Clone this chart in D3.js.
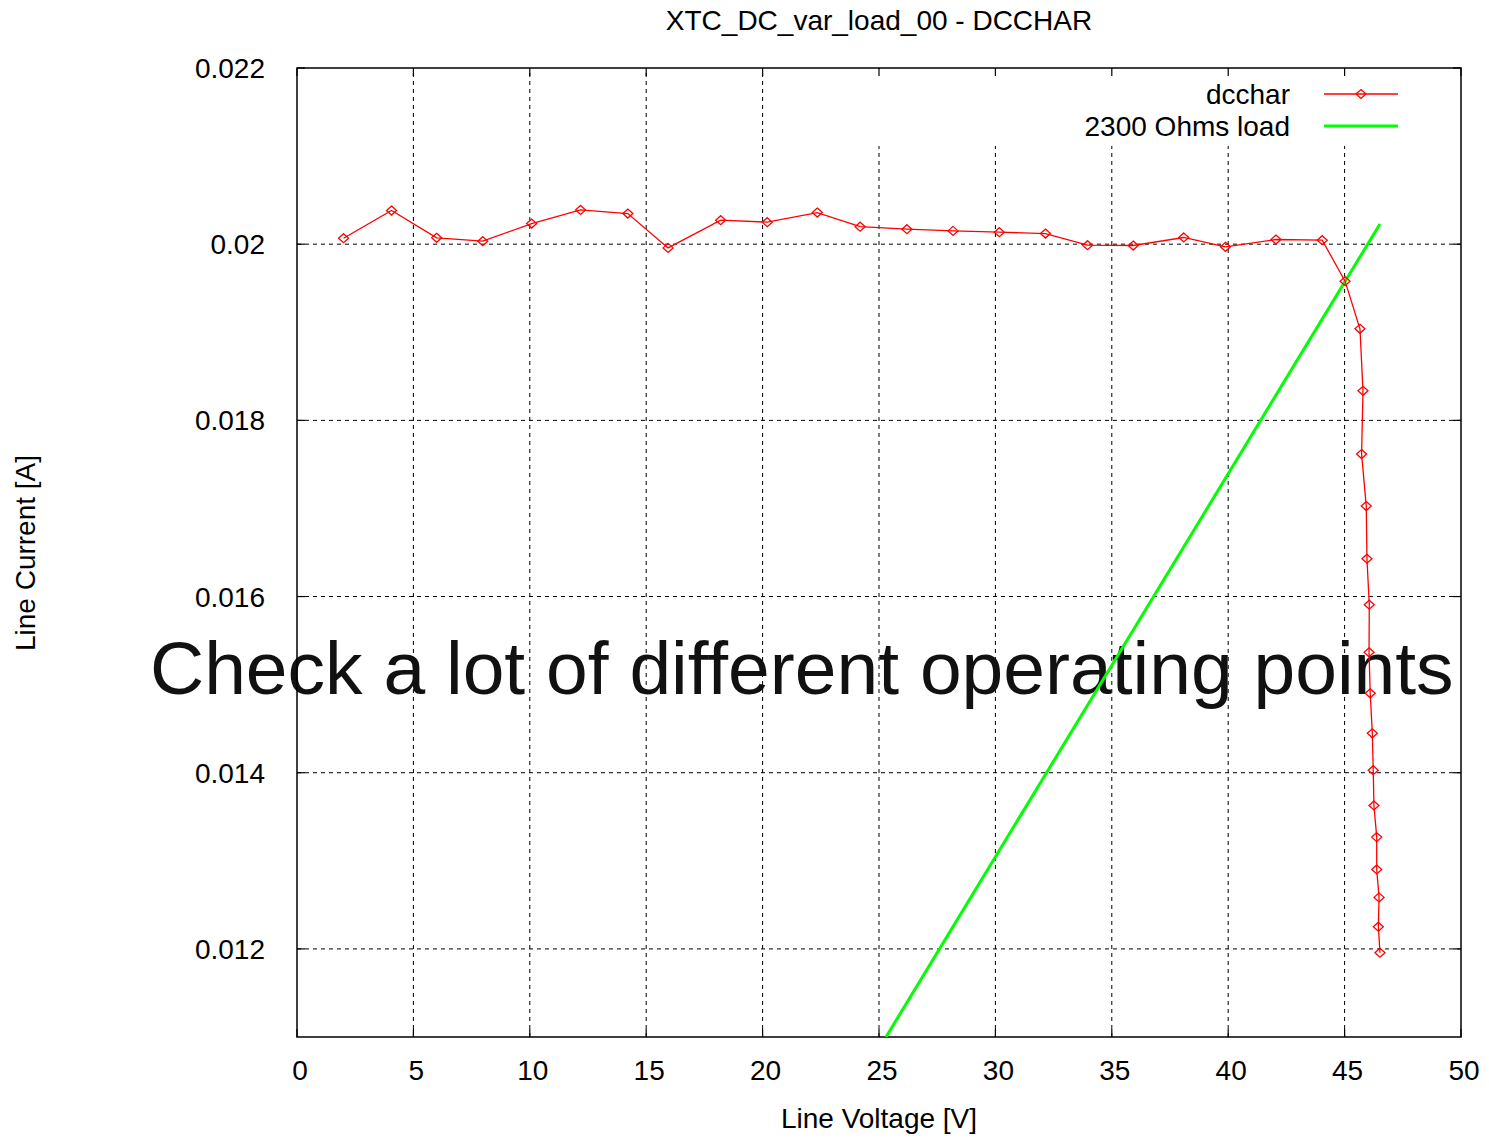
<!DOCTYPE html>
<html><head><meta charset="utf-8">
<script src="https://cdn.jsdelivr.net/npm/d3@7"></script>
<style>
body{margin:0;background:#fff;}
text{font-family:"Liberation Sans",Arial,Helvetica,sans-serif;}
</style></head>
<body><svg id="c" width="1489" height="1138"></svg>
<script>
const titleText = "XTC_DC_var_load_00 - DCCHAR";
const xLabel = "Line Voltage [V]";
const yLabel = "Line Current [A]";
const noteText = "Check a lot of different operating points";
const seriesNames = ["dcchar", "2300 Ohms load"];
const xTicks = [0,5,10,15,20,25,30,35,40,45,50];
const yTicks = [0.012,0.014,0.016,0.018,0.020,0.022];
const yTickLabels = ["0.012","0.014","0.016","0.018","0.02","0.022"];

const dccharV = [2.0,4.06,6.0,7.98,10.08,12.18,14.21,15.94,18.2,20.2,22.35,24.19,26.2,28.18,30.17,32.15,33.96,35.92,38.09,39.88,42.05,44.04,45.02,45.66,45.79,45.73,45.93,45.96,46.06,46.05,46.1,46.19,46.23,46.26,46.38,46.38,46.48,46.45,46.52];
const dccharI = [0.020068,0.020382,0.020072,0.020034,0.020234,0.020389,0.020348,0.019958,0.020272,0.02025,0.020359,0.020199,0.02017,0.020151,0.020136,0.020121,0.019989,0.019985,0.020076,0.01997,0.020053,0.020045,0.01958,0.019039,0.018336,0.017617,0.017027,0.01643,0.015908,0.015367,0.014902,0.014448,0.014029,0.013628,0.013269,0.012902,0.012585,0.012252,0.011957];
const loadV = [25.3, 46.52];
const loadI = [0.011, 0.02023];

const svg = d3.select("#c");
const L=297, R=1461, T=68, B=1037;
const x = d3.scaleLinear().domain([0,50]).range([L,R]);
const y = d3.scaleLinear().domain([0.011,0.022]).range([B,T]);

svg.append("defs").append("clipPath").attr("id","pc").append("rect")
  .attr("x",L).attr("y",T).attr("width",R-L).attr("height",B-T);

// grid
const g = svg.append("g");
g.selectAll(".vg").data(xTicks.filter(d=>d>0&&d<50)).join("line")
  .attr("x1",d=>x(d)).attr("x2",d=>x(d)).attr("y1",B).attr("y2",T)
  .attr("stroke","#000").attr("stroke-width",1).attr("stroke-dasharray","4,4");
g.selectAll(".hg").data(yTicks.filter(d=>d<0.022)).join("line")
  .attr("x1",L).attr("x2",R).attr("y1",d=>y(d)).attr("y2",d=>y(d))
  .attr("stroke","#000").attr("stroke-width",1).attr("stroke-dasharray","4,4");

// opaque key box
svg.append("rect").attr("x",x(22.8)).attr("y",T+1).attr("width",R-x(22.8)-1).attr("height",145-T)
  .attr("fill","#fff");

// ticks
const tk = svg.append("g").attr("stroke","#000").attr("stroke-width",1.2);
xTicks.forEach(d=>{
  tk.append("line").attr("x1",x(d)).attr("x2",x(d)).attr("y1",B).attr("y2",B-8);
  tk.append("line").attr("x1",x(d)).attr("x2",x(d)).attr("y1",T).attr("y2",T+8);
});
yTicks.forEach(d=>{
  tk.append("line").attr("x1",L).attr("x2",L+8).attr("y1",y(d)).attr("y2",y(d));
  tk.append("line").attr("x1",R).attr("x2",R-8).attr("y1",y(d)).attr("y2",y(d));
});

// big note text
svg.append("text").attr("x",150).attr("y",694).attr("font-size",75).attr("fill","#111").text(noteText);

// border
svg.append("rect").attr("x",L).attr("y",T).attr("width",R-L).attr("height",B-T)
  .attr("fill","none").attr("stroke","#000").attr("stroke-width",1.5);

// tick labels
svg.selectAll(".xl").data(xTicks).join("text")
  .attr("x",d=>x(d)+3).attr("y",1080).attr("text-anchor","middle").attr("font-size",28).text(d=>d);
svg.selectAll(".yl").data(yTicks).join("text")
  .attr("x",265).attr("y",d=>y(d)+10).attr("text-anchor","end").attr("font-size",28)
  .text((d,i)=>yTickLabels[i]);

// titles
svg.append("text").attr("x",879).attr("y",30).attr("text-anchor","middle").attr("font-size",28).text(titleText);
svg.append("text").attr("x",879).attr("y",1128).attr("text-anchor","middle").attr("font-size",28).text(xLabel);
svg.append("text").attr("transform","translate(35,553) rotate(-90)").attr("text-anchor","middle").attr("font-size",28).text(yLabel);

// data
const plot = svg.append("g").attr("clip-path","url(#pc)");
const loadPts = loadV.map((v,i)=>[v,loadI[i]]);
plot.append("path").attr("d",d3.line().x(d=>x(d[0])).y(d=>y(d[1]))(loadPts))
  .attr("fill","none").attr("stroke","#00ff00").attr("stroke-width",3);
const pts = dccharV.map((v,i)=>[v,dccharI[i]]);
plot.append("path").attr("d",d3.line().x(d=>x(d[0])).y(d=>y(d[1]))(pts))
  .attr("fill","none").attr("stroke","#ff0000").attr("stroke-width",1.3);
const diamond = (cx,cy)=>`M${cx},${cy-4.5}L${cx+5},${cy}L${cx},${cy+4.5}L${cx-5},${cy}Z`;
plot.selectAll(".m").data(pts).join("path")
  .attr("d",d=>diamond(x(d[0]),y(d[1]))).attr("fill","none").attr("stroke","#ff0000").attr("stroke-width",1.3);

// legend
const lg = svg.append("g");
lg.append("text").attr("x",1290).attr("y",104).attr("text-anchor","end").attr("font-size",28).text(seriesNames[0]);
lg.append("text").attr("x",1290).attr("y",136).attr("text-anchor","end").attr("font-size",28).text(seriesNames[1]);
lg.append("line").attr("x1",1324).attr("x2",1398).attr("y1",94).attr("y2",94).attr("stroke","#ff0000").attr("stroke-width",1.3);
lg.append("path").attr("d",diamond(1361,94)).attr("fill","none").attr("stroke","#ff0000").attr("stroke-width",1.3);
lg.append("line").attr("x1",1324).attr("x2",1398).attr("y1",126).attr("y2",126).attr("stroke","#00ff00").attr("stroke-width",3);
</script></body></html>
